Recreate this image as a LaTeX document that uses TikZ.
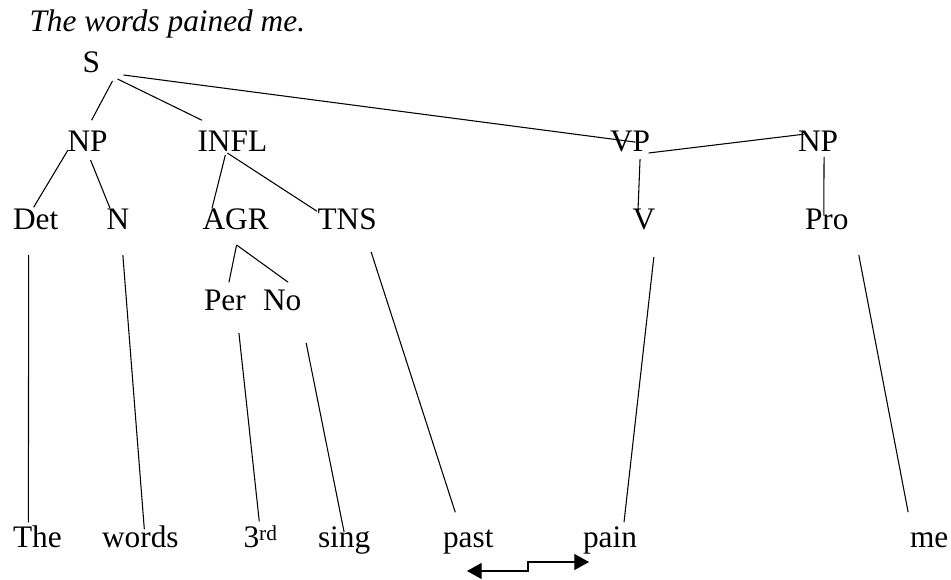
\documentclass[tikz,border=0pt]{standalone}
\usepackage{fontspec}
\setmainfont{Liberation Serif}
\usepackage{tikz}
\usetikzlibrary{arrows.meta}
\newcommand{\treefont}{\fontsize{23.5pt}{28pt}\selectfont}

\begin{document}
\begin{tikzpicture}[x=0.75pt,y=-0.75pt,line width=0.8pt]
\tikzstyle{every node}=[anchor=south west,inner sep=0pt,text height=15.5pt,text depth=0pt,font=\treefont];
\useasboundingbox (0,0) rectangle (951,580);
\node[font=\treefont\itshape] (title) at (29,32) {The words pained me.};
% categories
\node (S) at (82,73) {S};
\node (np) at (67,152) {NP};
\node (infl) at (197,152) {INFL};
\node (vp) at (609.5,152) {VP};
\node (objnp) at (797.5,152) {NP};
\node (det) at (12.5,230) {Det};
\node (n) at (106,230) {N};
\node (agr) at (202,230) {AGR};
\node (tns) at (317,230) {TNS};
\node (v) at (632,230) {V};
\node (pro) at (804.5,230) {Pro};
\node (per) at (203.5,311) {Per};
\node (num) at (262.5,311) {No};
% words
\node (the) at (12.5,548) {The};
\node (words) at (101.5,548) {words};
\node (third) at (243,548) {3\raisebox{5pt}{\fontsize{16pt}{16pt}\selectfont rd}};
\node (sing) at (317.5,548) {sing};
\node (past) at (442.5,548) {past};
\node (pain) at (582.5,548) {pain};
\node (me) at (909.5,548) {me};
% branches
\draw ([shift={(12,8)}]S.south east) -- ([shift={(4,-10)}]np.north);
\draw ([shift={(17,6)}]S.south east) -- ([shift={(5,-10)}]infl.north west);
\draw ([shift={(23,2)}]S.south east) -- ([shift={(26,1)}]vp.west);
\draw ([shift={(1,-2)}]np.south west) -- ([shift={(-2,-1)}]det.north);
\draw ([shift={(3,8)}]np.south) -- ([shift={(4,0)}]n.north west);
\draw ([shift={(-7,3)}]infl.south) -- ([shift={(10,0)}]agr.north west);
\draw ([shift={(-5,1)}]infl.south) -- ([shift={(0,3)}]tns.north west);
\draw ([shift={(10,7)}]vp.south) -- ([shift={(-6,6)}]v.north);
\draw ([shift={(-2,1)}]vp.south east) -- ([shift={(6,4)}]objnp.north west);
\draw ([shift={(6,5)}]objnp.south) -- ([shift={(-3,6)}]pro.north);
\draw ([shift={(1,15)}]agr.south) -- ([shift={(4,-7)}]per.north);
\draw ([shift={(1,15)}]agr.south) -- ([shift={(6,-7)}]num.north);
% down to the words
\draw ([shift={(-7,25)}]det.south) -- ([shift={(-9,-4)}]the.north);
\draw ([shift={(5,25)}]n.south) -- ([shift={(4,3)}]words.north);
\draw ([shift={(14,22)}]per.south) -- ([shift={(-1,-5)}]third.north);
\draw ([shift={(24,32)}]num.south) -- ([shift={(0,6)}]sing.north);
\draw ([shift={(24,22)}]tns.south) -- ([shift={(-13,-14)}]past.north);
\draw ([shift={(10,27)}]v.south) -- ([shift={(14,-4)}]pain.north);
\draw ([shift={(32,25)}]pro.south) -- ([shift={(-21,-14)}]me.north);
% past <-> pain
\coordinate (back) at (467,571);
\coordinate (fwd) at (589,562);
\draw[{Triangle[length=11pt,width=12pt]}-{Triangle[length=11pt,width=12pt]}] (back) -- ++(61,0) |- (fwd);
\end{tikzpicture}
\end{document}
